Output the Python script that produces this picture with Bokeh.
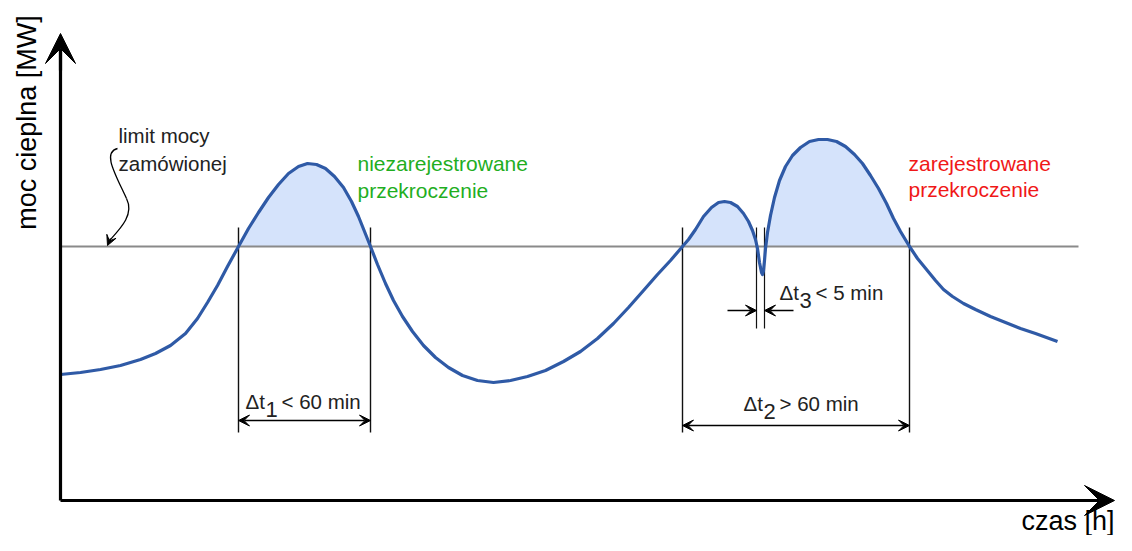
import numpy as np
from bokeh.plotting import figure
from bokeh.models import Range1d, Arrow, VeeHead
from bokeh.core.properties import value
from bokeh.embed import file_html
from bokeh.resources import INLINE

# ---- data (schematic units: time, thermal power) ----
time = [0, 20, 40, 60, 80, 95, 110, 125, 137, 147, 157, 167, 178, 188, 198, 208, 218, 228, 238,
        247, 256, 265, 274, 283, 291, 298, 304, 310, 317, 325, 333, 342, 352, 363, 375, 388,
        402, 417, 433, 450, 467, 485, 503, 520, 537, 553, 568, 583, 597, 610, 622,
        628, 635, 643, 651, 658, 664, 670, 677, 683, 688, 692, 695, 697, 699, 701, 702, 703,
        704, 705, 707, 710, 714, 719, 725, 732, 740, 749, 758, 767, 776, 785, 794, 802, 810,
        818, 826, 833, 840, 849,
        857, 866, 875, 883, 892, 903, 915, 930, 945, 960, 975, 997]
power = [126, 128, 131, 135, 141, 147, 155, 167, 182, 198, 215, 234, 254, 272, 288, 303, 316, 327, 334,
         337, 336, 332, 324, 313, 299, 284, 269, 254, 236, 217, 200, 184, 169, 155, 143, 133,
         125, 120, 118, 120, 124, 130, 139, 149, 162, 177, 193, 210, 226, 240, 254,
         261, 271, 284, 293, 298, 299, 298, 294, 287, 279, 270, 261, 252, 238, 228, 226, 230,
         240, 252, 268, 285, 303, 320, 334, 345, 353, 359, 361, 361, 359, 354, 346, 337, 325,
         312, 297, 282, 269, 254,
         242, 231, 220, 211, 204, 197, 191, 184, 178, 172, 167, 159]
limit_power = 254
limit_end = 1018
interval1 = [178, 310]
interval2 = [622, 849]
interval3 = [696, 704]
labels_sub = ["1", "2", "3"]
labels_rest = ["< 60 min", "> 60 min", "< 5 min"]

FONT = value("Liberation Sans")

p = figure(width=1116, height=535, x_range=Range1d(-60, 1056), y_range=Range1d(-35, 500),
           output_backend="svg", toolbar_location=None, min_border=0,
           x_axis_type=None, y_axis_type=None)
p.grid.visible = False
p.outline_line_color = None
p.background_fill_color = "white"

# fill above limit
pw = np.array(power, dtype=float)
p.varea(x=time, y1=[limit_power] * len(time), y2=np.maximum(pw, limit_power),
        fill_color="#d5e3fb")
p.line(time, np.maximum(pw, limit_power), line_color="#f2b0b0", line_width=1)

# limit line
p.line([0, limit_end], [limit_power, limit_power], line_color="#8a8a8a", line_width=1.8)

# interval marker lines
top = 273
p.segment(x0=[interval1[0], interval1[1], interval2[0], interval2[1]], y0=[top] * 4,
          x1=[interval1[0], interval1[1], interval2[0], interval2[1]], y1=[68] * 4,
          line_color="#111111", line_width=1.4)
p.segment(x0=interval3, y0=[top] * 2, x1=interval3, y1=[172] * 2,
          line_color="#111111", line_width=1.2)

# power curve
p.line(time, power, line_color="#2f5aa6", line_width=3.2, line_join="round")

# axes with arrows
p.line([0, 0], [0, 450], line_color="black", line_width=3.2)
p.line([0, 1035], [0, 0], line_color="black", line_width=3.2)
p.add_layout(Arrow(end=VeeHead(size=30, fill_color="black", line_color="black"),
                   x_start=0, y_start=430, x_end=0, y_end=467, line_width=3.2))
p.add_layout(Arrow(end=VeeHead(size=30, fill_color="black", line_color="black"),
                   x_start=1020, y_start=0, x_end=1054, y_end=0, line_width=3.2))

# dimension arrows
def dbl(x0, x1, y):
    p.add_layout(Arrow(start=VeeHead(size=11, fill_color="black", line_color="black"),
                       end=VeeHead(size=11, fill_color="black", line_color="black"),
                       x_start=x0, y_start=y, x_end=x1, y_end=y, line_width=1.5))

dbl(interval1[0], interval1[1], 80)
dbl(interval2[0], interval2[1], 75)
p.add_layout(Arrow(end=VeeHead(size=11, fill_color="black", line_color="black"),
                   x_start=667, y_start=190, x_end=interval3[0], y_end=190, line_width=1.5))
p.add_layout(Arrow(end=VeeHead(size=11, fill_color="black", line_color="black"),
                   x_start=733, y_start=190, x_end=interval3[1], y_end=190, line_width=1.5))

# leader for "limit mocy"
p.bezier(x0=[57, 66], y0=[352, 302], x1=[66, 49], y1=[302, 260],
         cx0=[42, 74], cy0=[348, 286], cx1=[54, 60], cy1=[328, 272],
         line_color="black", line_width=1.3)
p.add_layout(Arrow(end=VeeHead(size=10, fill_color="black", line_color="black"),
                   x_start=50, y_start=262, x_end=47, y_end=255, line_width=1.3))

# texts
def txt(x, y, s, size="20.5px", color="#222222", align="left", angle=0):
    p.text(x=[x], y=[y], text=[s], text_font=FONT, text_font_size=size,
           text_color=color, text_align=align, text_baseline="middle", angle=angle)

txt(-34, 378, "moc cieplna [MW]", size="27px", color="black", align="center", angle=np.pi / 2)
txt(1054, -20, "czas [h]", size="27px", color="black", align="right")
txt(58, 365, "limit mocy")
txt(58, 337, "zamówionej")
txt(297, 337, "niezarejestrowane", size="21px", color="#1fae1f")
txt(297, 310, "przekroczenie", size="21px", color="#1fae1f")
txt(848, 337, "zarejestrowane", size="21px", color="#f01818")
txt(848, 311, "przekroczenie", size="21px", color="#f01818")

dx = [185, 683, 719]
dy = [99, 97, 208]
for i in range(3):
    txt(dx[i], dy[i], "Δt")
    txt(dx[i] + 20, dy[i] - 8, labels_sub[i], size="22px")
    txt(dx[i] + 36, dy[i], labels_rest[i])

open("out.html", "w").write(file_html(p, INLINE))
